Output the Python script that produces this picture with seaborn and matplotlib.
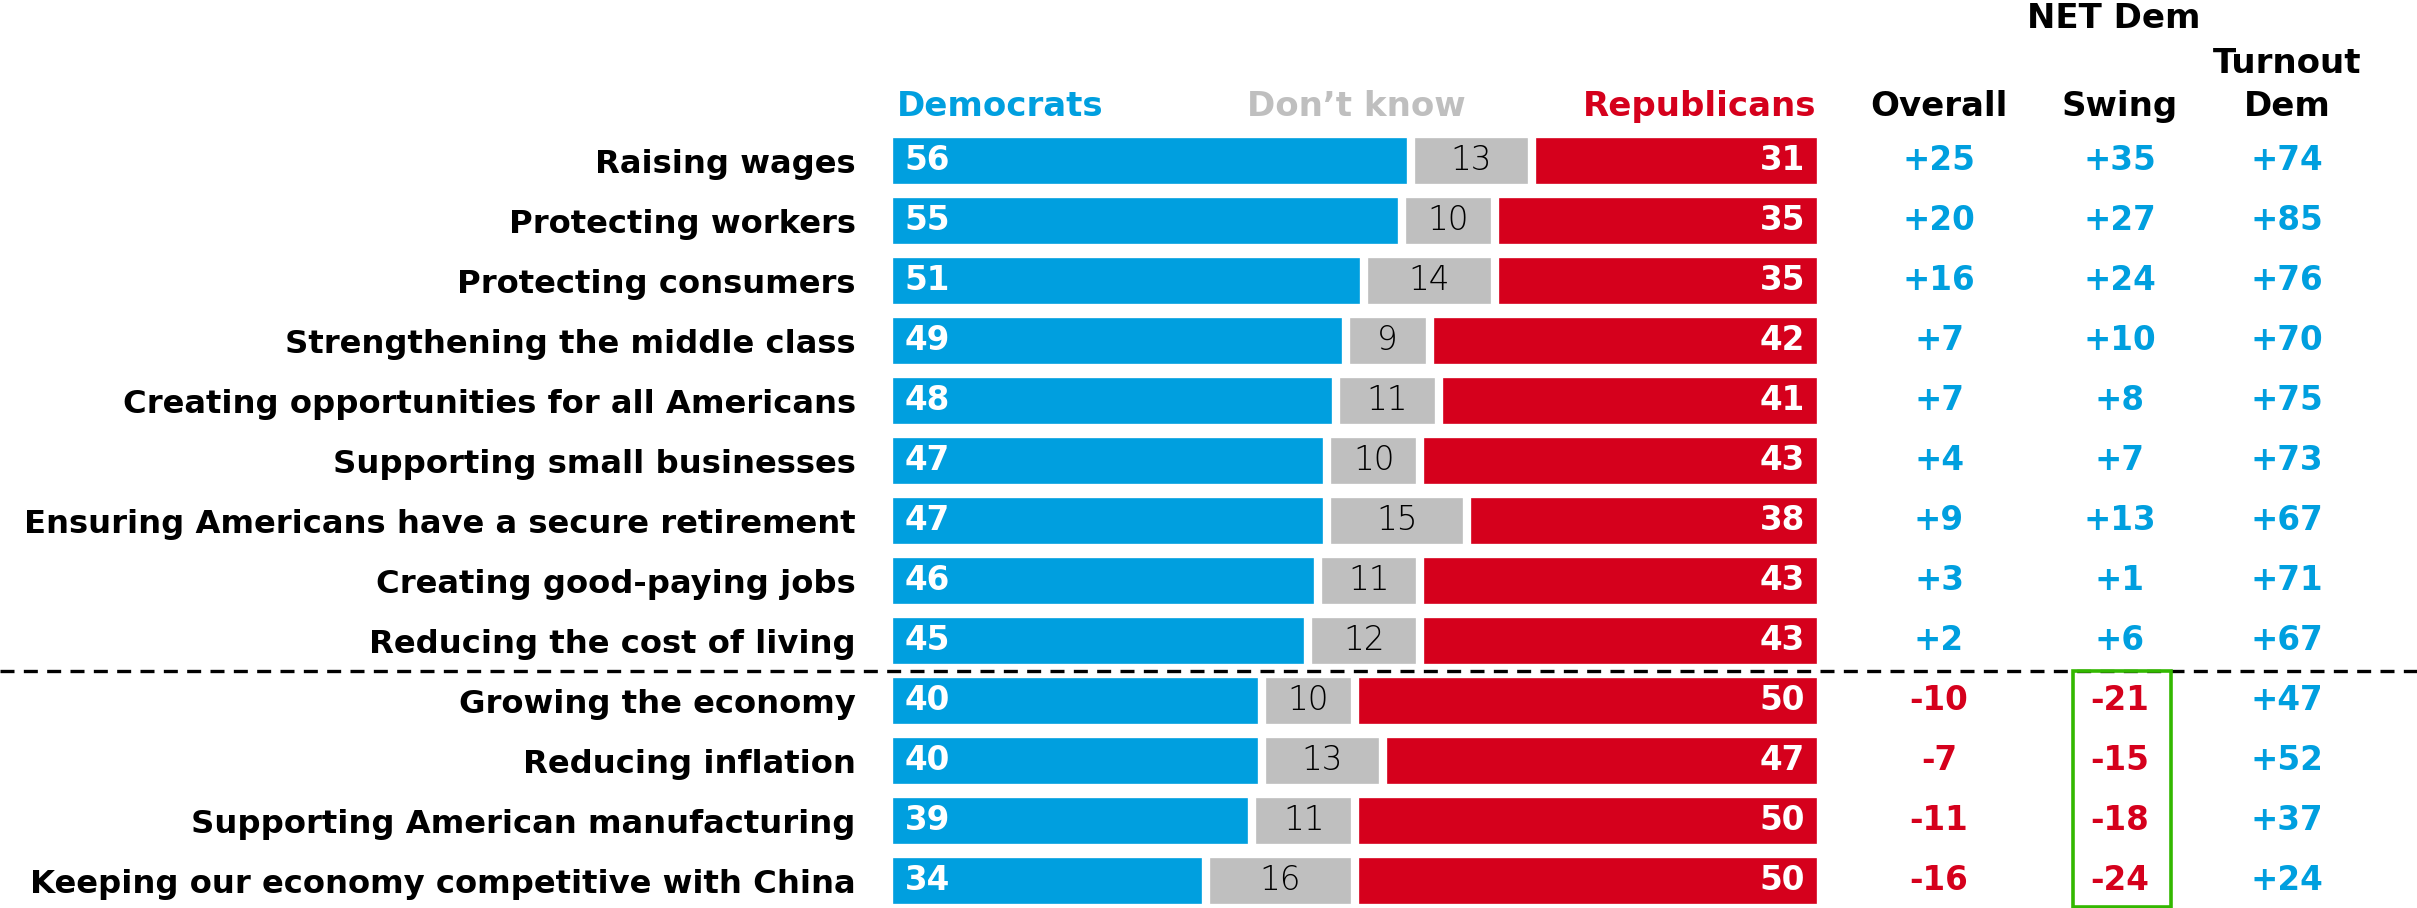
import matplotlib
matplotlib.use("Agg")
import matplotlib.pyplot as plt
import matplotlib.transforms as mtransforms
from matplotlib.patches import Rectangle
import seaborn as sns
import pandas as pd

# ---- data ----
issues = [
    "Raising wages",
    "Protecting workers",
    "Protecting consumers",
    "Strengthening the middle class",
    "Creating opportunities for all Americans",
    "Supporting small businesses",
    "Ensuring Americans have a secure retirement",
    "Creating good-paying jobs",
    "Reducing the cost of living",
    "Growing the economy",
    "Reducing inflation",
    "Supporting American manufacturing",
    "Keeping our economy competitive with China",
]
democrats = [56, 55, 51, 49, 48, 47, 47, 46, 45, 40, 40, 39, 34]
dont_know = [13, 10, 14, 9, 11, 10, 15, 11, 12, 10, 13, 11, 16]
republicans = [31, 35, 35, 42, 41, 43, 38, 43, 43, 50, 47, 50, 50]
net_overall = [25, 20, 16, 7, 7, 4, 9, 3, 2, -10, -7, -11, -16]
net_swing = [35, 27, 24, 10, 8, 7, 13, 1, 6, -21, -15, -18, -24]
net_turnout_dem = [74, 85, 76, 70, 75, 73, 67, 71, 67, 47, 52, 37, 24]

BLUE = "#009FDF"
RED = "#D5001C"
GRAY = "#BFBFBF"
GREEN = "#33B800"

df = pd.DataFrame({
    "issue": issues,
    "dem": democrats,
    "dk": dont_know,
    "rep": republicans,
})
df["dk_end"] = df["dem"] + df["dk"]
df["rep_end"] = df["dk_end"] + df["rep"]

sns.set_theme(style="white")
plt.rcParams["font.family"] = ["DejaVu Sans"]

W, H = 2417, 908
fig = plt.figure(figsize=(W / 100, H / 100), dpi=100)
ax = fig.add_axes([889 / W, 0, 932 / W, 1])

common = dict(y="issue", orient="h", width=0.9, edgecolor="white",
              linewidth=6, ax=ax, saturation=1)
sns.barplot(data=df, x="rep_end", color=RED, **common)
sns.barplot(data=df, x="dk_end", color=GRAY, **common)
sns.barplot(data=df, x="dem", color=BLUE, **common)

ax.set_xlim(0, 100)
ax.set_ylim(12.45, -2.683)
ax.set_xlabel("")
ax.set_ylabel("")
ax.set_xticks([])
for s in ax.spines.values():
    s.set_visible(False)
ax.tick_params(axis="y", length=0, pad=24)
for lab in ax.get_yticklabels():
    lab.set_fontsize(23.2)
    lab.set_fontweight("bold")
    lab.set_color("black")

FS = 23.5
# numbers inside the bars
for i, r in df.iterrows():
    ax.text(1.7, i, f"{r.dem}", color="white", fontsize=FS, fontweight="bold",
            ha="left", va="center")
    ax.text(r.dem + r.dk / 2, i, f"{r.dk}", color="black", fontsize=FS,
            fontweight="light", ha="center", va="center")
    ax.text(98.3, i, f"{r.rep}", color="white", fontsize=FS, fontweight="bold",
            ha="right", va="center")

# figure-x / data-y transform for the side columns
tr = mtransforms.blended_transform_factory(fig.transFigure, ax.transData)

def fx(px):
    return px / W

def signed(v):
    return f"+{v}" if v > 0 else f"{v}"

col_x = [1939, 2120, 2287]
for cx, vals in zip(col_x, [net_overall, net_swing, net_turnout_dem]):
    for i, v in enumerate(vals):
        ax.text(fx(cx), i, signed(v), transform=tr, color=BLUE if v > 0 else RED,
                fontsize=FS, fontweight="bold", ha="center", va="center",
                clip_on=False)

# column headers
HFS = 24.5
hy = -0.9
ax.text(fx(897), hy, "Democrats", transform=tr, color=BLUE, fontsize=HFS,
        fontweight="bold", ha="left", va="center")
ax.text(fx(1356), hy, "Don\u2019t know", transform=tr, color=GRAY, fontsize=HFS,
        fontweight="bold", ha="center", va="center")
ax.text(fx(1816), hy, "Republicans", transform=tr, color=RED, fontsize=HFS,
        fontweight="bold", ha="right", va="center")
ax.text(fx(1939), hy, "Overall", transform=tr, color="black", fontsize=HFS,
        fontweight="bold", ha="center", va="center")
ax.text(fx(2120), hy, "Swing", transform=tr, color="black", fontsize=HFS,
        fontweight="bold", ha="center", va="center")
ax.text(fx(2287), hy, "Dem", transform=tr, color="black", fontsize=HFS,
        fontweight="bold", ha="center", va="center")
ax.text(fx(2287), -1.63, "Turnout", transform=tr, color="black", fontsize=HFS,
        fontweight="bold", ha="center", va="center")
ax.text(fx(2114), -2.37, "NET Dem", transform=tr, color="black", fontsize=HFS,
        fontweight="bold", ha="center", va="center")

# divider between issues where Democrats lead on both measures and the rest
ax.plot([0, 1], [8.5, 8.5], transform=tr, color="black", lw=2.4,
        linestyle=(0, (4.2, 2.8)), clip_on=False, zorder=5)

# highlight box around the negative swing values
ax.add_patch(Rectangle((fx(2073), 8.5), fx(2171) - fx(2073), 12.43 - 8.5,
                       transform=tr, fill=False, edgecolor=GREEN, lw=2.6,
                       clip_on=False, zorder=6))

fig.savefig("out.png", dpi=100, facecolor="white")
